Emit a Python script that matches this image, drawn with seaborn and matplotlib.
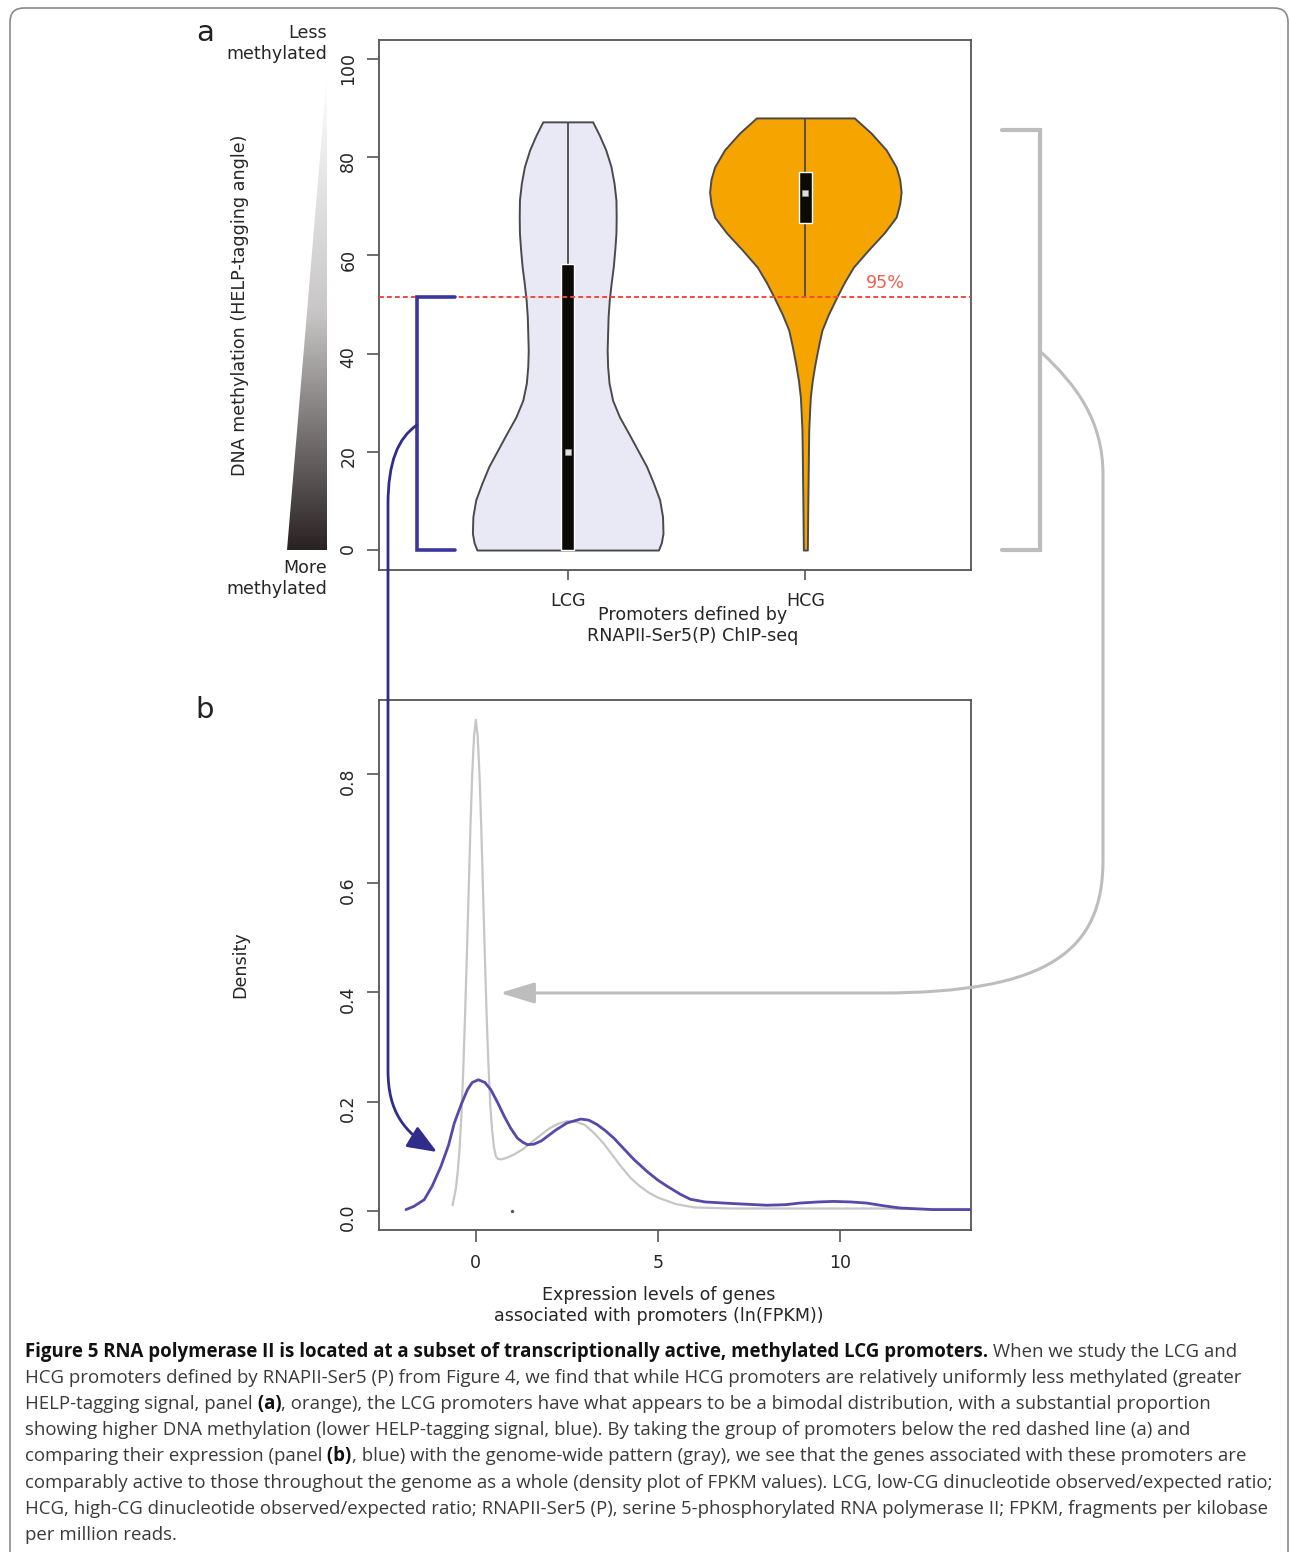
import numpy as np
import pandas as pd
import matplotlib
matplotlib.use("Agg")
import matplotlib.pyplot as plt
import seaborn as sns
from matplotlib.path import Path
from matplotlib.patches import FancyArrowPatch, Polygon, FancyBboxPatch
from matplotlib.colors import LinearSegmentedColormap

# ---------------- data ----------------
categories = ["LCG", "HCG"]

# violin outlines: methylation level vs half-width (category units)
lcg_levels = [0, 1.5, 3.4, 6.8, 10.2, 13.6, 17, 20.4, 23.8, 27.1, 30.5, 34, 37.4, 40.7, 44.1,
              47.5, 51, 54.4, 57.8, 61.1, 64.5, 67.8, 71.3, 74.7, 78.1, 81.5, 84.4, 87.2]
lcg_halfwidth = [0.382, 0.394, 0.401, 0.399, 0.387, 0.361, 0.332, 0.294, 0.256, 0.218, 0.189,
                 0.174, 0.168, 0.166, 0.168, 0.170, 0.175, 0.183, 0.192, 0.198, 0.203, 0.204,
                 0.203, 0.195, 0.182, 0.160, 0.134, 0.105]
hcg_levels = [0, 10, 20, 24.4, 28, 31.2, 34.5, 38, 41.5, 44.8, 48, 51.5, 54.5, 57.6, 61.1,
              64.6, 67.8, 70.5, 72.9, 75.5, 78, 81.5, 84.9, 88]
hcg_halfwidth = [0.0084, 0.0105, 0.013, 0.0143, 0.0176, 0.021, 0.029, 0.041, 0.055, 0.070,
                 0.097, 0.132, 0.164, 0.202, 0.265, 0.332, 0.382, 0.397, 0.403, 0.397, 0.382,
                 0.340, 0.277, 0.206]

box_low = [0.0, 66.6]
box_high = [58.2, 77.0]
medians = [19.9, 72.7]
whisker_low = [0.0, 51.5]
whisker_high = [87.2, 88.0]
violin_colors = ["#e9e9f6", "#f5a400"]

threshold = 51.5
threshold_label = "95%"
yticks_a = [0, 20, 40, 60, 80, 100]

# panel b densities of ln(FPKM)
gray_x = [-0.64, -0.55, -0.5, -0.45, -0.4, -0.35, -0.3, -0.25, -0.2, -0.15, -0.1, -0.05, 0.0,
          0.05, 0.1, 0.15, 0.2, 0.25, 0.3, 0.35, 0.4, 0.45, 0.5, 0.55, 0.6, 0.7, 0.85, 1.05,
          1.3, 1.5, 1.75, 2.0, 2.25, 2.5, 2.75, 3.0, 3.25, 3.5, 3.75, 4.0, 4.25, 4.5, 4.75,
          5.0, 5.25, 5.5, 6.0, 7.0, 8.0, 9.0, 10.0, 11.0, 12.0, 13.0, 13.6]
gray_y = [0.01, 0.04, 0.07, 0.11, 0.17, 0.25, 0.35, 0.46, 0.58, 0.70, 0.80, 0.87, 0.90,
          0.87, 0.80, 0.70, 0.58, 0.46, 0.35, 0.26, 0.19, 0.145, 0.115, 0.10, 0.095, 0.094,
          0.097, 0.103, 0.113, 0.124, 0.137, 0.150, 0.159, 0.164, 0.163, 0.157, 0.142, 0.124,
          0.102, 0.080, 0.060, 0.045, 0.033, 0.024, 0.018, 0.012, 0.006, 0.004, 0.004, 0.004,
          0.004, 0.004, 0.003, 0.003, 0.003]
blue_x = [-1.92, -1.7, -1.42, -1.2, -0.96, -0.75, -0.59, -0.4, -0.23, -0.1, 0.07, 0.25, 0.41,
          0.6, 0.78, 0.95, 1.14, 1.3, 1.42, 1.6, 1.8, 1.96, 2.2, 2.51, 2.88, 3.1, 3.33, 3.55,
          3.79, 4.0, 4.34, 4.7, 5.0, 5.25, 5.62, 5.89, 6.3, 7.08, 7.99, 8.5, 8.9, 9.4, 9.82,
          10.3, 10.73, 11.2, 11.64, 12.55, 13.6]
blue_y = [0.002, 0.008, 0.02, 0.045, 0.081, 0.12, 0.161, 0.195, 0.222, 0.235, 0.240, 0.235,
          0.222, 0.198, 0.173, 0.152, 0.133, 0.125, 0.121, 0.122, 0.128, 0.136, 0.148, 0.161,
          0.168, 0.166, 0.158, 0.147, 0.133, 0.118, 0.094, 0.072, 0.056, 0.045, 0.030, 0.021,
          0.016, 0.013, 0.010, 0.011, 0.014, 0.016, 0.017, 0.016, 0.014, 0.009, 0.005, 0.002,
          0.002]
stray_x = [1.0]
stray_y = [0.0]
xticks_b = [0, 5, 10]
yticks_b = [0.0, 0.2, 0.4, 0.6, 0.8]
ytick_labels_b = ["0.0", "0.2", "0.4", "0.6", "0.8"]

caption_lines = [
    [("Figure 5 RNA polymerase II is located at a subset of transcriptionally active, methylated LCG promoters.", "bold"),
     (" When we study the LCG and", "normal")],
    [("HCG promoters defined by RNAPII-Ser5 (P) from Figure 4, we find that while HCG promoters are relatively uniformly less methylated (greater", "normal")],
    [("HELP-tagging signal, panel", "normal"), (" (a)", "bold"),
     (", orange), the LCG promoters have what appears to be a bimodal distribution, with a substantial proportion", "normal")],
    [("showing higher DNA methylation (lower HELP-tagging signal, blue). By taking the group of promoters below the red dashed line (a) and", "normal")],
    [("comparing their expression (panel", "normal"), (" (b)", "bold"),
     (", blue) with the genome-wide pattern (gray), we see that the genes associated with these promoters are", "normal")],
    [("comparably active to those throughout the genome as a whole (density plot of FPKM values). LCG, low-CG dinucleotide observed/expected ratio;", "normal")],
    [("HCG, high-CG dinucleotide observed/expected ratio; RNAPII-Ser5 (P), serine 5-phosphorylated RNA polymerase II; FPKM, fragments per kilobase", "normal")],
    [("per million reads.", "normal")],
]

# ---------------- style ----------------
W, H = 1290, 1552
sns.set_theme(style="ticks")
plt.rcParams["font.family"] = ["DejaVu Sans"]
TXT = "#262626"
FRAME = "#555555"
LAB = 12.6

fig = plt.figure(figsize=(W / 100, H / 100), dpi=100)
fig.patch.set_facecolor("white")


def axes_px(left, top, right, bottom):
    return fig.add_axes([left / W, 1 - bottom / H, (right - left) / W, (bottom - top) / H])


def style_frame(ax):
    for s in ax.spines.values():
        s.set_visible(True)
        s.set_color(FRAME)
        s.set_linewidth(1.3)
    ax.set_facecolor("white")


# ---------------- panel a ----------------
axa = axes_px(379, 40, 971, 570)
style_frame(axa)
pos = np.arange(len(categories))
for i, (lev, hw) in enumerate([(lcg_levels, lcg_halfwidth), (hcg_levels, hcg_halfwidth)]):
    lev = np.asarray(lev)
    hw = np.asarray(hw)
    axa.fill_betweenx(lev, pos[i] - hw, pos[i] + hw, facecolor=violin_colors[i],
                      edgecolor="#4a4a4a", linewidth=1.4, zorder=2)
axa.vlines(pos, whisker_low, whisker_high, color="#4a4a4a", linewidth=1.3, zorder=3)
axa.bar(pos, np.array(box_high) - np.array(box_low), bottom=box_low, width=0.055,
        color="#0c0a07", zorder=4)
axa.scatter(pos, medians, marker="s", s=18, color="#dedede", edgecolor="#999999",
            linewidth=0.4, zorder=5)
axa.axhline(threshold, color="#f04a3a", linewidth=1.4, linestyle=(0, (2.5, 1.6)), zorder=6)
axa.text(1.336, threshold + 2.9, threshold_label, color="#f0604f", fontsize=LAB,
         ha="center", va="center")

axa.set_xlim(-0.794, 1.697)
axa.set_ylim(-4.07, 103.87)
axa.set_xticks(pos)
axa.set_xticklabels(categories)
axa.set_yticks(yticks_a)
axa.set_yticklabels([str(v) for v in yticks_a])
axa.tick_params(axis="y", labelrotation=90, length=8.6, width=1.2, color=FRAME, pad=7,
                labelsize=12.5, labelcolor=TXT, direction="out", left=True)
axa.tick_params(axis="x", length=7, width=1.2, color=FRAME, pad=9, labelsize=LAB,
                labelcolor=TXT, direction="out", bottom=True)
axa.set_xlabel("Promoters defined by\nRNAPII-Ser5(P) ChIP-seq", fontsize=LAB, color=TXT)
axa.xaxis.set_label_coords(0.5295, -0.068)
axa.set_ylabel("DNA methylation (HELP-tagging angle)", fontsize=LAB, color=TXT)
axa.yaxis.set_label_coords(-0.219, 0.5)

# ---------------- panel b ----------------
axb = axes_px(379, 700, 971, 1230)
style_frame(axb)
sns.lineplot(x=gray_x, y=gray_y, ax=axb, color="#c6c6c6", linewidth=1.6, zorder=2)
sns.lineplot(x=blue_x, y=blue_y, ax=axb, color="#5848aa", linewidth=2.0, zorder=3)
axb.scatter(stray_x, stray_y, s=2, color="#555555", zorder=4)
axb.set_xlim(-2.66, 13.60)
axb.set_ylim(-0.0354, 0.9362)
axb.set_xticks(xticks_b)
axb.set_xticklabels([str(v) for v in xticks_b])
axb.set_yticks(yticks_b)
axb.set_yticklabels(ytick_labels_b)
axb.tick_params(axis="y", labelrotation=90, length=8.6, width=1.2, color=FRAME, pad=7,
                labelsize=12.5, labelcolor=TXT, direction="out", left=True)
axb.tick_params(axis="x", length=8.6, width=1.2, color=FRAME, pad=9, labelsize=12.5,
                labelcolor=TXT, direction="out", bottom=True)
axb.set_xlabel("Expression levels of genes\nassociated with promoters (ln(FPKM))",
               fontsize=LAB, color=TXT)
axb.xaxis.set_label_coords(0.472, -0.106)
axb.set_ylabel("Density", fontsize=LAB, color=TXT)
axb.yaxis.set_label_coords(-0.219, 0.5)

# ---------------- overlay (annotations, caption) ----------------
ov = fig.add_axes([0, 0, 1, 1], zorder=10)
ov.set_xlim(0, W)
ov.set_ylim(H, 0)
ov.axis("off")


def to_px(ax, x, y):
    d = ax.transData.transform((x, y))
    return d[0], H - d[1]


# border of the figure box
ov.add_patch(FancyBboxPatch((10, 8), W - 12, H + 40,
                            boxstyle="round,pad=0,rounding_size=14",
                            facecolor="none", edgecolor="#8a8a8a", linewidth=1.2,
                            clip_on=False))

# gradient wedge
_, y_top = to_px(axa, 0, 97)
_, y_bot = to_px(axa, 0, 0)
wedge = Polygon([(327, y_top), (327, y_bot), (287, y_bot)], closed=True,
                transform=ov.transData, facecolor="none", edgecolor="none")
cmap = LinearSegmentedColormap.from_list("grad", ["#ffffff", "#c8c6c6", "#2a2222"])
grad = np.linspace(0, 1, 256).reshape(-1, 1)
im = ov.imshow(grad, cmap=cmap, extent=(287, 327, y_bot, y_top), aspect="auto",
               interpolation="bilinear", zorder=1)
im.set_clip_path(wedge)
ov.set_xlim(0, W)
ov.set_ylim(H, 0)

ov.text(327, 43.5, "Less\nmethylated", ha="right", va="center", fontsize=LAB, color=TXT,
        linespacing=1.2)
ov.text(327, 578.5, "More\nmethylated", ha="right", va="center", fontsize=LAB, color=TXT,
        linespacing=1.2)
ov.text(205, 33, "a", ha="center", va="center", fontsize=21, color="#222222")
ov.text(205, 710, "b", ha="center", va="center", fontsize=21, color="#222222")

# blue bracket (promoters below threshold) and arrow into panel b
BLUE = "#3a36a0"
_, y_thr = to_px(axa, 0, threshold)
_, y_zero = to_px(axa, 0, 0)
ov.plot([455, 417, 417, 455], [y_thr, y_thr, y_zero, y_zero], color=BLUE, linewidth=2.6,
        solid_joinstyle="miter", zorder=5)
blue_path = Path([(417, 425), (398, 438), (388, 462), (388, 505), (388, 1070),
                  (388, 1112), (404, 1132), (437, 1152)],
                 [Path.MOVETO, Path.CURVE4, Path.CURVE4, Path.CURVE4, Path.LINETO,
                  Path.CURVE4, Path.CURVE4, Path.CURVE4])
ov.add_patch(FancyArrowPatch(path=blue_path, arrowstyle="-|>,head_length=0.9,head_width=0.36",
                             mutation_scale=20, color="#2f2c8c", linewidth=2.0, zorder=5))

# gray bracket (all promoters) and arrow into panel b
GRAY = "#bdbdbd"
_, y_g_top = to_px(axa, 0, 85.5)
ov.plot([1002, 1040, 1040, 1002], [y_g_top, y_g_top, y_zero, y_zero], color=GRAY,
        linewidth=3.0, solid_joinstyle="miter", zorder=5)
gray_path = Path([(1042, 353), (1076, 385), (1103, 420), (1103, 475), (1103, 860),
                  (1103, 950), (1050, 993), (880, 993), (500, 993)],
                 [Path.MOVETO, Path.CURVE4, Path.CURVE4, Path.CURVE4, Path.LINETO,
                  Path.CURVE4, Path.CURVE4, Path.CURVE4, Path.LINETO])
ov.add_patch(FancyArrowPatch(path=gray_path, arrowstyle="-|>,head_length=1.05,head_width=0.32",
                             mutation_scale=20, color=GRAY, linewidth=2.2, zorder=5))

# caption
CAPFONT = ["Open Sans", "DejaVu Sans"]
renderer = fig.canvas.get_renderer()
probe = ov.text(0, 0, caption_lines[1][0][0], fontsize=12, family=CAPFONT)
pw = probe.get_window_extent(renderer).width
probe.remove()
cap_size = 12 * 1206.0 / pw
baseline0 = 1357
for k, segs in enumerate(caption_lines):
    x = 25.0
    y = baseline0 + 26.1 * k
    for txt, weight in segs:
        t = ov.text(x, y, txt, fontsize=cap_size, fontweight=weight, family=CAPFONT,
                    color="#111111" if weight == "bold" else "#3a3a3a",
                    ha="left", va="baseline")
        x += t.get_window_extent(renderer).width

fig.savefig("out.png", dpi=100, facecolor="white")
